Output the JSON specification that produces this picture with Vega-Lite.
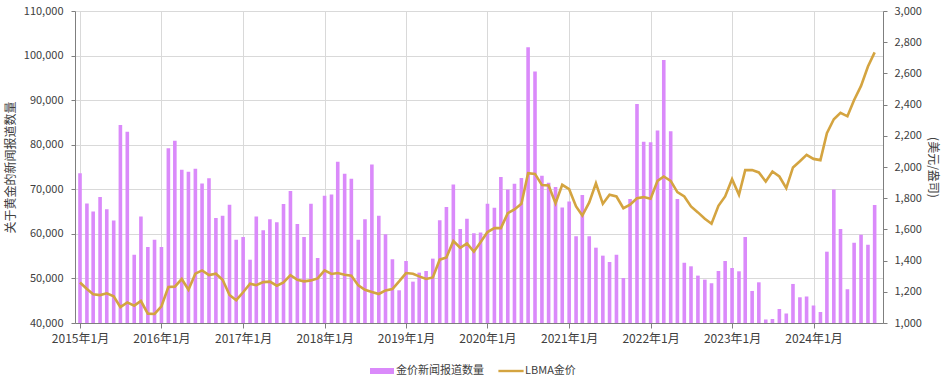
{
  "$schema": "https://vega.github.io/schema/vega-lite/v6.json",
  "width": 808,
  "height": 312,
  "autosize": "none",
  "padding": {"left": 75, "top": 11, "right": 62, "bottom": 54},
  "background": "white",
  "config": {
    "view": {"stroke": null},
    "font": "Noto Sans CJK SC",
    "axis": {
      "labelFont": "Noto Sans CJK SC",
      "titleFont": "Noto Sans CJK SC",
      "labelColor": "#404040",
      "titleColor": "#404040",
      "labelFontSize": 11,
      "titleFontSize": 12,
      "titleFontWeight": "normal",
      "gridColor": "#d9d9d9",
      "gridWidth": 1,
      "domainColor": "#7f7f7f",
      "tickColor": "#7f7f7f",
      "tickSize": 4
    },
    "legend": {"labelFont": "Noto Sans CJK SC"}
  },
  "data": {
    "values": [
      {"date": "2015-01", "news": 73600, "price": 1260},
      {"date": "2015-02", "news": 66800, "price": 1218},
      {"date": "2015-03", "news": 65000, "price": 1184},
      {"date": "2015-04", "news": 68250, "price": 1179},
      {"date": "2015-05", "news": 65500, "price": 1190},
      {"date": "2015-06", "news": 63000, "price": 1171},
      {"date": "2015-07", "news": 84400, "price": 1102},
      {"date": "2015-08", "news": 82900, "price": 1132},
      {"date": "2015-09", "news": 55300, "price": 1111},
      {"date": "2015-10", "news": 63900, "price": 1141},
      {"date": "2015-11", "news": 57050, "price": 1060},
      {"date": "2015-12", "news": 58700, "price": 1058},
      {"date": "2016-01", "news": 57050, "price": 1107},
      {"date": "2016-02", "news": 79230, "price": 1231},
      {"date": "2016-03", "news": 80870, "price": 1233},
      {"date": "2016-04", "news": 74370, "price": 1282},
      {"date": "2016-05", "news": 73920, "price": 1213},
      {"date": "2016-06", "news": 74600, "price": 1316},
      {"date": "2016-07", "news": 71300, "price": 1337},
      {"date": "2016-08", "news": 72500, "price": 1307},
      {"date": "2016-09", "news": 63550, "price": 1316},
      {"date": "2016-10", "news": 64070, "price": 1277},
      {"date": "2016-11", "news": 66530, "price": 1180},
      {"date": "2016-12", "news": 58700, "price": 1146},
      {"date": "2017-01", "news": 59300, "price": 1197},
      {"date": "2017-02", "news": 54200, "price": 1252},
      {"date": "2017-03", "news": 63900, "price": 1242},
      {"date": "2017-04", "news": 60800, "price": 1262},
      {"date": "2017-05", "news": 63250, "price": 1265},
      {"date": "2017-06", "news": 62600, "price": 1239},
      {"date": "2017-07", "news": 66700, "price": 1260},
      {"date": "2017-08", "news": 69600, "price": 1307},
      {"date": "2017-09", "news": 62200, "price": 1277},
      {"date": "2017-10", "news": 59300, "price": 1267},
      {"date": "2017-11", "news": 66760, "price": 1273},
      {"date": "2017-12", "news": 54600, "price": 1286},
      {"date": "2018-01", "news": 68550, "price": 1337},
      {"date": "2018-02", "news": 68850, "price": 1314},
      {"date": "2018-03", "news": 76170, "price": 1320},
      {"date": "2018-04", "news": 73480, "price": 1309},
      {"date": "2018-05", "news": 72360, "price": 1303},
      {"date": "2018-06", "news": 58700, "price": 1241},
      {"date": "2018-07", "news": 63250, "price": 1213},
      {"date": "2018-08", "news": 75570, "price": 1199},
      {"date": "2018-09", "news": 64070, "price": 1186},
      {"date": "2018-10", "news": 59900, "price": 1209},
      {"date": "2018-11", "news": 54290, "price": 1218},
      {"date": "2018-12", "news": 47340, "price": 1267},
      {"date": "2019-01", "news": 53910, "price": 1320},
      {"date": "2019-02", "news": 49280, "price": 1316},
      {"date": "2019-03", "news": 51300, "price": 1299},
      {"date": "2019-04", "news": 51670, "price": 1282},
      {"date": "2019-05", "news": 54440, "price": 1292},
      {"date": "2019-06", "news": 63030, "price": 1406},
      {"date": "2019-07", "news": 66010, "price": 1420},
      {"date": "2019-08", "news": 71090, "price": 1525},
      {"date": "2019-09", "news": 61080, "price": 1482},
      {"date": "2019-10", "news": 63400, "price": 1510},
      {"date": "2019-11", "news": 60110, "price": 1457},
      {"date": "2019-12", "news": 60330, "price": 1517},
      {"date": "2020-01", "news": 66760, "price": 1583},
      {"date": "2020-02", "news": 65860, "price": 1608},
      {"date": "2020-03", "news": 72730, "price": 1608},
      {"date": "2020-04", "news": 69970, "price": 1704},
      {"date": "2020-05", "news": 71240, "price": 1728},
      {"date": "2020-06", "news": 72510, "price": 1764},
      {"date": "2020-07", "news": 101850, "price": 1960},
      {"date": "2020-08", "news": 96400, "price": 1956},
      {"date": "2020-09", "news": 73030, "price": 1884},
      {"date": "2020-10", "news": 71460, "price": 1882},
      {"date": "2020-11", "news": 70490, "price": 1768},
      {"date": "2020-12", "news": 65940, "price": 1886},
      {"date": "2021-01", "news": 67280, "price": 1858},
      {"date": "2021-02", "news": 59440, "price": 1747},
      {"date": "2021-03", "news": 68700, "price": 1689},
      {"date": "2021-04", "news": 59440, "price": 1773},
      {"date": "2021-05", "news": 56900, "price": 1896},
      {"date": "2021-06", "news": 55110, "price": 1764},
      {"date": "2021-07", "news": 53690, "price": 1822},
      {"date": "2021-08", "news": 55330, "price": 1811},
      {"date": "2021-09", "news": 50100, "price": 1736},
      {"date": "2021-10", "news": 67800, "price": 1758},
      {"date": "2021-11", "news": 89160, "price": 1800},
      {"date": "2021-12", "news": 80640, "price": 1807},
      {"date": "2022-01", "news": 80570, "price": 1796},
      {"date": "2022-02", "news": 83180, "price": 1911},
      {"date": "2022-03", "news": 99020, "price": 1939},
      {"date": "2022-04", "news": 83030, "price": 1911},
      {"date": "2022-05", "news": 67800, "price": 1839},
      {"date": "2022-06", "news": 53540, "price": 1811},
      {"date": "2022-07", "news": 52720, "price": 1747},
      {"date": "2022-08", "news": 50630, "price": 1709},
      {"date": "2022-09", "news": 49730, "price": 1668},
      {"date": "2022-10", "news": 48910, "price": 1636},
      {"date": "2022-11", "news": 51670, "price": 1751},
      {"date": "2022-12", "news": 53910, "price": 1811},
      {"date": "2023-01", "news": 52340, "price": 1922},
      {"date": "2023-02", "news": 51600, "price": 1822},
      {"date": "2023-03", "news": 59290, "price": 1980},
      {"date": "2023-04", "news": 47190, "price": 1980},
      {"date": "2023-05", "news": 49130, "price": 1965},
      {"date": "2023-06", "news": 40770, "price": 1907},
      {"date": "2023-07", "news": 40920, "price": 1971},
      {"date": "2023-08", "news": 43160, "price": 1939},
      {"date": "2023-09", "news": 42110, "price": 1864},
      {"date": "2023-10", "news": 48760, "price": 1997},
      {"date": "2023-11", "news": 45770, "price": 2037},
      {"date": "2023-12", "news": 45920, "price": 2078},
      {"date": "2024-01", "news": 43910, "price": 2052},
      {"date": "2024-02", "news": 42490, "price": 2044},
      {"date": "2024-03", "news": 56000, "price": 2217},
      {"date": "2024-04", "news": 69970, "price": 2306},
      {"date": "2024-05", "news": 61080, "price": 2347},
      {"date": "2024-06", "news": 47560, "price": 2325},
      {"date": "2024-07", "news": 58020, "price": 2430},
      {"date": "2024-08", "news": 59810, "price": 2520},
      {"date": "2024-09", "news": 57570, "price": 2644},
      {"date": "2024-10", "news": 66460, "price": 2735}
    ],
    "format": {"parse": {"date": "date:'%Y-%m'"}}
  },
  "encoding": {
    "x": {
      "field": "date",
      "type": "temporal",
      "scale": {"domain": [{"year": 2015, "month": 1, "date": 1}, {"year": 2024, "month": 10, "date": 16}]},
      "axis": {
        "title": null,
        "format": "%Y年%-m月",
        "tickCount": {"interval": "year", "step": 1},
        "labelFontSize": 12,
        "labelPadding": 5,
        "tickSize": 5,
        "grid": true,
        "labelFlush": false,
        "labelOverlap": false
      }
    }
  },
  "layer": [
    {
      "mark": {"type": "bar", "size": 3.6, "clip": true},
      "encoding": {
        "y": {
          "field": "news",
          "type": "quantitative",
          "scale": {"domain": [40000, 110000], "nice": false, "zero": false},
          "axis": {
            "title": "关于黄金的新闻报道数量",
            "values": [40000, 50000, 60000, 70000, 80000, 90000, 100000, 110000],
            "format": ",d",
            "grid": true,
            "labelPadding": 8,
            "titlePadding": 6
          }
        },
        "color": {
          "datum": "金价新闻报道数量",
          "type": "nominal",
          "scale": {"domain": ["金价新闻报道数量", "LBMA金价"], "range": ["#DA8AFA", "#D4A440"]},
          "legend": {
            "title": null,
            "orient": "none",
            "legendX": 295,
            "legendY": 348,
            "direction": "horizontal",
            "symbolSize": 576,
            "labelFontSize": 11,
            "labelColor": "#404040",
            "labelOffset": 2,
            "columnPadding": 14,
            "padding": 0,
            "encode": {
              "symbols": {
                "update": {
                  "shape": {"signal": "datum.label == 'LBMA金价' ? 'M-1.05,-0.1H1.05V0.1H-1.05Z' : 'M-1,-0.25H1V0.25H-1Z'"},
                  "fill": [{"test": "datum.label == 'LBMA金价'", "value": "#D4A440"}, {"value": "#DA8AFA"}],
                  "stroke": {"value": "transparent"},
                  "strokeWidth": {"value": 0},
                  "opacity": {"value": 1}
                }
              }
            }
          }
        }
      }
    },
    {
      "mark": {"type": "line", "strokeWidth": 2.6, "clip": true},
      "encoding": {
        "y": {
          "field": "price",
          "type": "quantitative",
          "scale": {"domain": [1000, 3000], "nice": false, "zero": false},
          "axis": {
            "orient": "right",
            "title": "(美元/盎司)",
            "values": [1000, 1200, 1400, 1600, 1800, 2000, 2200, 2400, 2600, 2800, 3000],
            "format": ",d",
            "grid": false,
            "labelPadding": 7,
            "titlePadding": 4
          }
        },
        "color": {"datum": "LBMA金价", "type": "nominal"}
      }
    }
  ],
  "resolve": {"scale": {"y": "independent"}}
}
